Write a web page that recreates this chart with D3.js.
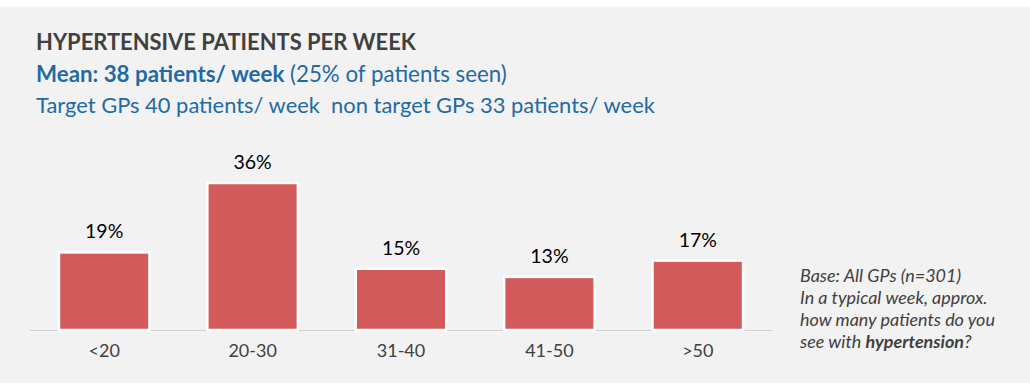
<!DOCTYPE html>
<html>
<head>
<meta charset="utf-8">
<script src="https://cdn.jsdelivr.net/npm/d3@7"></script>
<style>
  body { margin: 0; background: #fff; }
  svg { display: block; }
  text { font-family: Lato, "Open Sans", sans-serif; }
</style>
</head>
<body>
<div id="chart"></div>
<script>
// data
var categories = ["<20", "20-30", "31-40", "41-50", ">50"];
var shares = [19, 36, 15, 13, 17];

var title = "HYPERTENSIVE PATIENTS PER WEEK";
var meanBold = "Mean: 38 patients/ week";
var meanRest = " (25% of patients seen)";
var targetLine = "Target GPs 40 patients/ week  non target GPs 33 patients/ week";
var noteLines = [
  [{t: "Base: All GPs (n=301)"}],
  [{t: "In a typical week, approx."}],
  [{t: "how many patients do you"}],
  [{t: "see with "}, {t: "hypertension", b: true}, {t: "?"}]
];

var width = 1030, height = 387;
var blue = "#1f6aa5", grey = "#404040", barRed = "#d35b5b";

var svg = d3.select("#chart").append("svg")
  .attr("width", width)
  .attr("height", height);

// panel background
svg.append("rect")
  .attr("x", 0).attr("y", 7)
  .attr("width", width).attr("height", 376)
  .attr("fill", "#f2f2f2");

// shrink/grow font so the line spans the wanted width
function fitWidth(sel, target) {
  var fs = parseFloat(sel.attr("font-size"));
  var w = sel.node().getComputedTextLength();
  sel.attr("font-size", (fs * target / w).toFixed(2));
  return fs * target / w;
}

// header
var t1 = svg.append("text")
  .attr("x", 36).attr("y", 50)
  .attr("font-size", 20).attr("font-weight", 700)
  .attr("fill", grey)
  .text(title);
fitWidth(t1, 380);

var t2 = svg.append("text")
  .attr("x", 36).attr("y", 82)
  .attr("font-size", 18)
  .attr("fill", blue);
t2.append("tspan").attr("font-weight", 700).text(meanBold);
t2.append("tspan").attr("xml:space", "preserve").text(meanRest);
fitWidth(t2, 471);

var t3 = svg.append("text")
  .attr("x", 36).attr("y", 113)
  .attr("font-size", 18)
  .attr("fill", blue)
  .style("white-space", "pre")
  .text(targetLine);
fitWidth(t3, 619);

// scales
var x = d3.scaleBand()
  .domain(categories)
  .range([30, 772])
  .paddingInner(0.39)
  .paddingOuter(0.195);

var y = d3.scaleLinear()
  .domain([0, 36])
  .range([330, 183]);

// baseline
svg.append("line")
  .attr("x1", 30).attr("x2", 772)
  .attr("y1", y(0) + 0.5).attr("y2", y(0) + 0.5)
  .attr("stroke", "#d0d0d0")
  .attr("stroke-width", 1);

// bars
svg.append("g").selectAll("rect")
  .data(shares)
  .join("rect")
    .attr("x", (d, i) => x(categories[i]))
    .attr("y", d => y(d))
    .attr("width", x.bandwidth())
    .attr("height", d => y(0) - y(d))
    .attr("fill", barRed)
    .attr("stroke", "#fff")
    .attr("stroke-width", 2.5);

// value labels
svg.append("g").selectAll("text")
  .data(shares)
  .join("text")
    .attr("x", (d, i) => x(categories[i]) + x.bandwidth() / 2)
    .attr("y", d => y(d) - 14)
    .attr("text-anchor", "middle")
    .attr("font-size", 19.5)
    .attr("fill", "#000")
    .text(d => d + "%");

// category axis labels
var xAxis = svg.append("g")
  .attr("transform", "translate(0," + y(0) + ")")
  .call(d3.axisBottom(x).tickSize(0).tickPadding(0));
xAxis.select(".domain").remove();
xAxis.selectAll("text")
  .attr("dy", null)
  .attr("y", 27)
  .attr("font-size", 18)
  .attr("font-family", "Lato, 'Open Sans', sans-serif")
  .attr("fill", grey);

// side note
var note = svg.append("g");
var noteTexts = noteLines.map(function(parts, i) {
  var tx = note.append("text")
    .attr("x", 800)
    .attr("y", 282 + i * 22)
    .attr("font-size", 15)
    .attr("font-style", "italic")
    .attr("fill", grey);
  parts.forEach(function(p) {
    tx.append("tspan")
      .attr("font-weight", p.b ? 700 : 400)
      .text(p.t);
  });
  return tx;
});
// size all note lines from the widest one
var noteSize = fitWidth(noteTexts[2], 195);
noteTexts.forEach(tx => tx.attr("font-size", noteSize.toFixed(2)));
</script>
</body>
</html>
